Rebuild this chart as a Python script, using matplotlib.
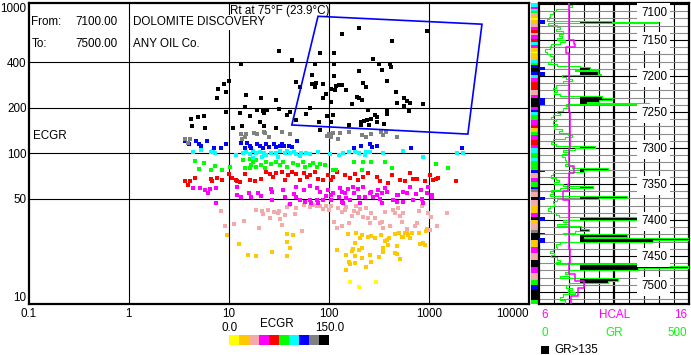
import numpy as np
import matplotlib
matplotlib.use("Agg")
import matplotlib.pyplot as plt

plt.rcParams['font.family'] = ['Liberation Sans', 'DejaVu Sans']
FS = 8.4
W, H = 691, 355

# ---------------- data: Rt (x) vs ECGR (y), grouped by ECGR colour class ----------------
class_colors = ['#FFFF00', '#FFC800', '#F5AAAA', '#FF00FF', '#FF0000',
                '#00FF00', '#00FFFF', '#0000FF', '#808080', '#000000']
ecgr_range = [0.0, 150.0]

black_rt = [200, 135, 950, 430, 81, 112, 275, 43, 32, 72, 112, 316, 407, 417, 200, 339, 68, 112, 380, 47.5,
            68, 74, 88, 222, 51, 73, 118, 127, 137, 106, 116, 147, 233, 464, 93, 88, 192, 201, 217, 562,
            600, 105, 169, 475, 646, 870, 562, 65, 32, 244, 378, 378, 631, 41, 59, 288, 302, 97, 109, 267,
            47.5, 79, 106, 212, 225, 241, 300, 355, 158, 209, 253, 81, 13.4, 7.8, 8.9, 10.1, 9.3, 7.7, 15, 21,
            30, 14.5, 9.5, 13.1, 19, 22, 24, 16.5, 4.2, 4.9, 5.7, 22.4, 20.7, 22.4, 13.7, 11, 29.5, 4.3, 5.8, 38]
black_ecgr = [680, 615, 650, 555, 465, 465, 423, 415, 478, 389, 389, 389, 389, 375, 352, 356, 330, 325, 302, 298,
              290, 293, 287, 293, 273, 273, 281, 285, 285, 266, 263, 263, 276, 255, 246, 233, 235, 231, 226, 232,
              222, 218, 213, 216, 216, 211, 205, 200, 196, 195, 190, 183, 190, 188, 182, 179, 175, 177, 179, 170,
              166, 162, 162, 162, 164, 166, 162, 156, 154, 154, 154, 143, 391, 267, 287, 301, 256, 233, 243, 233,
              226, 203, 188, 186, 195, 190, 193, 177, 169, 174, 177, 185, 161, 152, 152, 146, 148, 152, 148, 179]

gray_rt = [3.7, 3.9, 4.1, 13.4, 15, 14.5, 13.7, 17.9, 19.2, 22.4, 25, 23.3, 34, 41, 100, 106, 95, 124, 129, 158,
           215, 234, 263, 329, 372, 350, 475, 110]
gray_ecgr = [124, 117, 125, 134, 134, 128, 125, 136, 134, 138, 128, 136, 138, 134, 134, 128, 130, 125, 136, 138,
             132, 129, 134, 138, 138, 132, 129, 136]

blue_rt = [3.7, 4.0, 4.75, 5.1, 5.3, 6.1, 7.1, 8.3, 9.3, 13.4, 15.4, 16.2, 14.5, 16.8, 19.2, 20.7, 23.4, 22, 25.2,
           28.2, 30, 32.4, 35.8, 40, 48, 33.7, 42.5, 257, 300, 271, 179, 212, 670, 2160]
blue_ecgr = [121, 115, 121, 115, 111, 121, 109, 108, 115, 117, 117, 111, 109, 108, 116, 112, 116, 108, 110,
             115, 110, 112, 111, 112, 120, 115, 110, 116, 112, 110, 108, 111, 109, 108]

cyan_rt = [4.4, 5.3, 6.7, 7.35, 7.0, 11.7, 13.9, 15, 16.2, 17.5, 18.9, 20.4, 22.4, 23.8, 26.7, 30, 32.4, 36.3,
           38.3, 40.7, 44.7, 47.5, 53, 59, 64.6, 78, 102, 127, 139, 158, 182, 201, 229, 238, 257, 350, 553,
           877, 1890, 2200, 17.4, 21.6, 31, 51]
cyan_ecgr = [102, 105, 102, 101, 104, 97, 100, 102, 98.5, 104, 100, 102, 100, 97, 100, 101, 104, 100,
             104, 101, 102, 99, 100, 101, 99, 102, 99, 97, 100, 101.5, 102, 100, 97, 101.5, 102, 100, 104,
             94, 100, 100, 93.5, 95, 95, 96]

green_rt = [4.6, 5.1, 5.7, 6.7, 7.35, 8.5, 10.4, 13.9, 16.2, 17.5, 18.9, 16.8, 14.5, 16.2, 18.9, 21.2, 23.8,
            22.9, 26.7, 29.5, 32.4, 35, 37.8, 44, 49, 55, 57.5, 64.6, 70, 75.5, 82.6, 91, 109, 117, 178, 220,
            267, 363, 215, 430, 1175, 1540]
green_ecgr = [89, 79, 86, 77, 82, 77, 81.5, 90, 91, 88, 90, 84, 79.5, 79.5, 81.5, 84, 88,
              79.5, 85, 88, 84, 88, 81.5, 86, 84, 88, 81.5, 84, 86, 81.5, 84.6, 84, 77, 77, 88, 88,
              88, 88, 78, 80, 85, 80]

red_rt = [3.7, 3.9, 4.1, 4.6, 6.7, 6.85, 7.7, 8.5, 10, 10.9, 12.1, 11.7, 12.9, 14.5, 16.2, 18.2, 21.2, 23.8,
          25.7, 27.7, 30, 33.7, 36.3, 39.2, 42.5, 47.5, 51.3, 56, 60, 64.6, 72.4, 78, 87.7, 98.4, 106, 110,
          121, 145, 162, 182, 196, 220, 247, 300, 324, 392, 430, 513, 575, 646, 698, 754, 912, 1023, 1104,
          1167, 1240, 1862]
red_ecgr = [65, 62, 65, 69, 67, 65, 69, 66.5, 73, 69, 65, 66.5, 64, 73, 66.5, 65, 67.6, 75.6,
            73, 69.4, 73.7, 75.6, 66.5, 71.8, 75.6, 73, 66.5, 74.4, 69.4, 71.8, 75.6, 67.6, 66.5, 71.8, 66.5, 70,
            74.8, 71.5, 69, 73, 66.5, 70, 74.4, 70, 65.6, 63.3, 71.8, 66.5, 65, 73.7, 67.6, 67.6, 65.6, 71.8, 66.5,
            67.6, 69, 65.9]

magenta_rt = [4.4, 5.2, 5.75, 6.46, 7.4, 6.2, 7.4, 12.1, 12.1, 13.4, 16.6, 21.2, 26.7, 35, 47.5, 56.2, 64.6,
              75.5, 81.3, 98.4, 106, 129, 134, 145, 156, 176, 196, 220, 267, 311, 337, 363, 475, 553, 646, 826,
              984, 1064, 15.8, 19.6, 27, 27.3, 36.3, 40.7, 44.7, 47.5, 51.3, 57.5, 64.6, 67, 75.5, 78, 87.7,
              94.8, 106, 110, 127, 134, 139, 150, 162, 178, 201, 204, 229, 257, 277, 300, 324, 337, 378, 440,
              475, 494, 553, 599, 698, 738, 847, 877, 950, 1064]
magenta_ecgr = [59, 59, 57.2, 57.7, 59, 54.8, 47.1, 59.6, 53, 51.6, 51.2, 52.2, 57.7, 57.2, 59.6, 57.2, 60.7,
                59, 55.5, 57.2, 53, 59, 55.7, 54.8, 57.7, 59.6, 57.7, 59.6, 55.7, 57.2, 54.4, 58.6, 53, 55.5, 59.6,
                57.2, 59.6, 53, 54.8, 54.8, 55.7, 49.1, 51.2, 46.1, 53.8, 51.6, 49.1, 47.8, 49.1, 47.1, 49.1, 46.6,
                49.1, 52.2, 49.1, 54.8, 51.6, 47.8, 46.6, 50.3, 49.1, 54.4, 51.2, 46.6, 51.6, 54.8, 51.6, 53, 49.6,
                46.6, 55.7, 49.1, 47.8, 53, 47.8, 54.4, 49.1, 53.8, 49.6, 47.1, 54.4, 51.2]

pink_rt = [8.3, 9.1, 11.2, 14.1, 18.6, 20, 21.4, 22, 24.7, 25.7, 28.2, 31.1, 31.8, 32.4, 33.7, 36.3, 38.3, 40.2,
           45.7, 47.5, 54.6, 56.2, 64.6, 69.8, 75.5, 82.6, 87.7, 94.8, 100, 106, 112, 120, 124, 134, 135, 145,
           150, 160, 169, 178, 186, 196, 204, 220, 238, 247, 257, 267, 288, 324, 337, 350, 363, 407, 440, 457,
           494, 513, 533, 553, 599, 724, 754, 801, 847, 972, 1050, 1023, 1197, 1510]
pink_ecgr = [41.7, 32.7, 34, 35.8, 42.1, 32, 41.7, 39.6, 42.1, 37.1, 41, 40, 41.7, 36.6, 33.5, 39, 44.3, 45.5,
             39.6, 43.2, 30.7, 45.5, 44.3, 45.5, 44.6, 44.8, 42.6, 44.4, 42.1, 44.8, 35.2, 31.7, 43.2, 41, 33, 42.1,
             43.9, 34.7, 38.4, 41.7, 44.5, 40, 42.6, 38, 43.2, 37.1, 34.7, 40, 37.1, 34.4, 34.9, 31.9, 41, 32.7,
             42.1, 40, 43.2, 38.4, 35.2, 40, 31.4, 33, 34.4, 41.7, 44.8, 40, 38, 31, 33, 40.4]

gold_rt = [9.7, 12.7, 15.7, 18.9, 26.9, 37.8, 43.4, 37.8, 41.4, 38.6, 120, 150, 160, 150, 157, 182, 189, 175,
           169, 201, 214, 217, 204, 247, 267, 288, 329, 363, 378, 401, 392, 350, 345, 319, 257, 217, 182, 162,
           182, 267, 234, 457, 501, 537, 575, 620, 606, 646, 553, 671, 475, 457, 482, 513, 801, 933, 950, 813,
           867, 912]
gold_ecgr = [28.9, 24.9, 21, 20.7, 22, 29.1, 28.5, 25.7, 23.7, 20.7, 22.9, 21.2, 18.9, 16.9, 29.2, 25.4, 29.8,
             23.1, 22.6, 22.7, 28.7, 23.7, 27.4, 27.8, 28.1, 27.3, 28.7, 26.1, 26.5, 27.3, 24.7, 23.7, 22, 20.4,
             21.2, 20.2, 20.7, 18.5, 18.7, 18.9, 17.5, 29.1, 29.5, 27.8, 29.8, 28.7, 30.2, 27.3, 27.8, 29.5, 24.3,
             21.8, 21.5, 20, 29.8, 30.5, 31.4, 24.9, 25.5, 24.7]

yellow_rt = [162, 200, 295]
yellow_ecgr = [14.1, 12.9, 14.1]

# selection polygon (Rt, ECGR)
poly_rt = [78, 3390, 2450, 42.7]
poly_ecgr = [810, 718, 134, 154]

xticks = [0.1, 1, 10, 100, 1000, 10000]
xtick_labels = ['0.1', '1', '10', '100', '1000', '10000']
yticks = [10, 50, 100, 200, 400, 1000]
ytick_labels = ['10', '50', '100', '200', '400', '1000']

# ---------------- data: depth track ----------------
depth_top, depth_bot = 7097.9, 7516.7
gr_depth = [7097, 7101, 7104, 7107, 7110, 7114, 7118, 7121, 7123.5, 7125.5, 7126.5, 7129, 7132, 7135, 7138,
            7141, 7144, 7147, 7150, 7153, 7156, 7159, 7162, 7166, 7169, 7172, 7176, 7180, 7183, 7186, 7188,
            7190, 7192, 7193, 7197, 7198, 7201, 7204, 7207, 7210, 7213, 7216, 7219, 7222, 7225, 7228, 7230,
            7233, 7236, 7238, 7239, 7242, 7245, 7248, 7251, 7254, 7257, 7260, 7263, 7266, 7270, 7273, 7276,
            7279, 7282, 7285, 7288, 7291, 7294, 7297, 7300, 7303, 7306, 7309, 7312, 7316, 7319, 7322, 7325,
            7328, 7330, 7333, 7335, 7338, 7341, 7344, 7347, 7350, 7353, 7356, 7358, 7361, 7364, 7367, 7369,
            7371, 7374, 7377, 7380, 7384, 7387, 7390, 7393, 7396, 7400, 7403, 7406, 7409, 7412, 7415, 7418,
            7420, 7423, 7425, 7428, 7431, 7434, 7437, 7440, 7443, 7446, 7449, 7452, 7455, 7458, 7461, 7464,
            7466, 7469, 7472, 7475, 7478, 7481, 7485, 7488, 7491, 7494, 7497, 7500, 7503, 7507, 7511, 7517]
gr_value = [95, 110, 100, 55, 48, 35, 32, 25, 243, 398, 30, 60, 70, 55, 80,
            65, 75, 60, 85, 70, 40, 35, 20, 25, 38, 45, 40, 30, 60, 137, 170,
            198, 120, 198, 205, 75, 90, 110, 80, 95, 55, 45, 60, 50, 70, 210, 242,
            200, 160, 368, 90, 100, 80, 60, 70, 45, 40, 55, 45, 60, 50, 75, 65,
            95, 110, 85, 45, 40, 55, 187, 120, 80, 95, 75, 85, 90, 100, 85, 110,
            231, 150, 100, 45, 40, 55, 65, 50, 80, 180, 70, 40, 45, 35, 292, 200,
            60, 45, 50, 35, 30, 40, 55, 65, 328, 80, 100, 60, 140, 165, 120, 80,
            292, 150, 520, 380, 70, 55, 60, 45, 35, 50, 40, 60, 70, 55, 364, 498,
            330, 100, 85, 100, 70, 264, 230, 100, 90, 110, 95, 120, 80, 70, 85]

hcal_depth = [7097, 7120, 7150, 7155, 7160, 7168, 7200, 7250, 7300, 7325, 7335, 7350, 7360, 7372, 7380, 7400,
              7440, 7460, 7475, 7485, 7495, 7505, 7517]
hcal_value = [8.0, 8.0, 8.3, 8.4, 7.8, 8.0, 8.0, 8.05, 8.0, 8.3, 8.0, 7.9, 7.6, 8.0, 8.0, 8.0,
              8.05, 8.0, 8.4, 9.0, 8.6, 8.1]
gr_cut = 135

# depths where samples fall inside the selection polygon
sel_depth = [7122.5, 7188, 7194.5, 7231, 7331.5, 7368, 7396, 7418, 7425]
sel_thick = [5, 4, 5, 9, 1.5, 4, 5, 1.5, 7]

# ECGR colour class along depth (class index 0..9), boundaries in feet
strip_depth = [7098, 7104.6, 7107.4, 7109.7, 7113, 7116.2, 7120, 7122.2, 7126, 7131.5, 7136, 7140.7, 7143,
               7149, 7152.3, 7157, 7161.6, 7166, 7168, 7177.8, 7182.4, 7184.7, 7189.4, 7194, 7198.6, 7203.2,
               7207.9, 7219.4, 7226.4, 7231, 7242.6, 7247.2, 7250, 7254.2, 7261.1, 7268, 7272.7, 7277.3, 7282,
               7288.9, 7295.8, 7300.5, 7307.4, 7314, 7318, 7330.6, 7335.2, 7342.1, 7346.8, 7353.7, 7357, 7360.6,
               7367.6, 7372.2, 7379.2, 7390.7, 7395.4, 7400, 7406, 7413.9, 7418.5, 7427.8, 7437, 7446.3, 7455.6,
               7464.8, 7474, 7483.3, 7490.3, 7497.2, 7511, 7517]
strip_class = [6, 3, 6, 5, 2, 1, 0, 1, 2, 3, 4, 2, 3, 4, 6, 3, 1, 0, 1, 6, 5, 7, 9, 7, 6, 3, 4, 2, 3, 9,
               3, 7, 6, 5, 3, 4, 1, 5, 3, 4, 3, 6, 5, 6, 5, 7, 2, 3, 5, 7, 8, 2, 9, 2, 1, 3, 9, 1, 2, 8,
               9, 1, 3, 2, 9, 3, 2, 5, 7, 9, 5]

depth_ticks = [7100, 7150, 7200, 7250, 7300, 7350, 7400, 7450, 7500]

# ---------------- figure ----------------
fig = plt.figure(figsize=(W / 100, H / 100), dpi=100)


def fx(px):
    return px / W


def fy(py):
    return 1 - py / H


ax = fig.add_axes([fx(28.5), fy(304), (529 - 28.5) / W, (304 - 2.5) / H])
ax.set_xscale('log')
ax.set_yscale('log')
ax.set_xlim(0.1, 10000)
ax.set_ylim(10, 1000)
ax.minorticks_off()
ax.set_xticks(xticks)
ax.set_xticklabels(xtick_labels)
ax.set_yticks(yticks)
ax.set_yticklabels(ytick_labels)
ax.tick_params(length=0, labelsize=FS, pad=3)
ax.tick_params(axis='y', pad=1.5)
ax.get_xticklabels()[-1].set_horizontalalignment('right')
ax.get_yticklabels()[-1].set_verticalalignment('top')
ax.get_yticklabels()[0].set_verticalalignment('bottom')
for s in ax.spines.values():
    s.set_linewidth(1.6)
for v in [1, 10, 100, 1000]:
    ax.axvline(v, color='black', lw=0.8, zorder=1)
for v in [50, 100, 200, 400]:
    ax.axhline(v, color='black', lw=0.8, zorder=1)

groups = [(yellow_rt, yellow_ecgr), (gold_rt, gold_ecgr), (pink_rt, pink_ecgr), (magenta_rt, magenta_ecgr),
          (red_rt, red_ecgr), (green_rt, green_ecgr), (cyan_rt, cyan_ecgr), (blue_rt, blue_ecgr),
          (gray_rt, gray_ecgr), (black_rt, black_ecgr)]
for (xs, ys), c in zip(groups, class_colors):
    ax.scatter(xs, ys, s=9, marker='s', color=c, linewidths=0, zorder=3)

ax.fill(poly_rt, poly_ecgr, facecolor='none', edgecolor='#0000FF', lw=1.2, zorder=4)

tb = dict(boxstyle='square,pad=0.15', fc='white', ec='none')
fig.text(fx(31.5), fy(22.3), 'From:', fontsize=FS, va='center', ha='left')
fig.text(fx(75), fy(22.3), '7100.00', fontsize=FS, va='center', ha='left')
fig.text(fx(133), fy(22.3), 'DOLOMITE DISCOVERY', fontsize=FS, va='center', ha='left', bbox=tb)
fig.text(fx(31.5), fy(44), 'To:', fontsize=FS, va='center', ha='left')
fig.text(fx(75), fy(44), '7500.00', fontsize=FS, va='center', ha='left')
fig.text(fx(133), fy(44), 'ANY OIL Co.', fontsize=FS, va='center', ha='left', bbox=tb)
fig.text(fx(230), fy(10.8), 'Rt at 75°F (23.9°C)', fontsize=FS, va='center', ha='left')
fig.text(fx(33), fy(135.7), 'ECGR', fontsize=FS, va='center', ha='left')

# colour scale
cax = fig.add_axes([fx(229), fy(345), 100 / W, 10 / H])
edges = np.linspace(ecgr_range[0], ecgr_range[1], len(class_colors) + 1)
cax.bar(edges[:-1], np.ones(len(class_colors)), width=np.diff(edges), align='edge', color=class_colors)
cax.set_xlim(ecgr_range)
cax.set_ylim(0, 1)
cax.axis('off')
fig.text(fx(276.5), fy(324), 'ECGR', fontsize=FS, ha='center', va='center')
fig.text(fx(229.5), fy(328), f'{ecgr_range[0]:.1f}', fontsize=FS, ha='center', va='center')
fig.text(fx(329.5), fy(328), f'{ecgr_range[1]:.1f}', fontsize=FS, ha='center', va='center')

# colour strip along depth
sax = fig.add_axes([fx(531), fy(304), 7 / W, (304 - 2.5) / H])
sax.set_ylim(depth_bot, depth_top)
sax.set_xlim(0, 1)
for d0, d1, k in zip(strip_depth[:-1], strip_depth[1:], strip_class):
    sax.axhspan(d0, d1, color=class_colors[k], lw=0)
sax.axis('off')

# log track
tax = fig.add_axes([fx(539), fy(304), 150 / W, (304 - 2.5) / H])
tax.set_xlim(0, 500)
tax.set_ylim(depth_bot, depth_top)
tax.set_xticks([])
tax.set_yticks([])
for s in tax.spines.values():
    s.set_linewidth(1.6)
for g in range(50, 500, 50):
    tax.axvline(g, color='black', lw=1.6 if g == 250 else 0.8, zorder=1)
for d in range(7100, 7520, 10):
    tax.axhline(d, color='black' if d % 50 == 0 else '#8C8C8C', lw=0.8, zorder=1)

gd = np.array(gr_depth, dtype=float)
gv = np.array(gr_value, dtype=float)
ys = np.repeat(gd, 2)[1:-1]
xs = np.repeat(gv, 2)
tax.fill_betweenx(ys, gr_cut, xs, where=xs > gr_cut, color='black', lw=0, zorder=2)
tax.plot(np.clip(xs, 0, 500), ys, color='#00FF00', lw=0.8, zorder=3)

hd = np.array(hcal_depth, dtype=float)
hv = np.array(hcal_value, dtype=float)
hx = (hv - 6) / (16 - 6) * 500
tax.plot(np.repeat(hx, 2), np.repeat(hd, 2)[1:-1], color='#FF00FF', lw=1.1, zorder=4)

tax.barh(sel_depth, 20, height=sel_thick, left=0, align='edge', color='#0000FF', zorder=5)

for d in depth_ticks:
    dd = d + 2
    if d == depth_ticks[0]:
        dd = d + 12
    if d == depth_ticks[-1]:
        dd = d - 8
    tax.text(383, dd, str(d), fontsize=FS, ha='center', va='center',
             bbox=dict(boxstyle='square,pad=0.3', fc='white', ec='none'), zorder=6)

# track legend
fig.text(fx(541), fy(315), '6', color='#FF00FF', fontsize=FS, ha='left', va='center')
fig.text(fx(614.5), fy(315), 'HCAL', color='#FF00FF', fontsize=FS, ha='center', va='center')
fig.text(fx(687), fy(315), '16', color='#FF00FF', fontsize=FS, ha='right', va='center')
fig.text(fx(541), fy(333), '0', color='#00FF00', fontsize=FS, ha='left', va='center')
fig.text(fx(614.5), fy(333), 'GR', color='#00FF00', fontsize=FS, ha='center', va='center')
fig.text(fx(687), fy(333), '500', color='#00FF00', fontsize=FS, ha='right', va='center')
lax = fig.add_axes([fx(540.7), fy(354.3), 8 / W, 8.3 / H])
lax.bar([0], [1], width=1, align='edge', color='black')
lax.set_xlim(0, 1)
lax.set_ylim(0, 1)
lax.axis('off')
fig.text(fx(554), fy(350), f'GR>{gr_cut}', fontsize=FS, ha='left', va='center')

fig.savefig('out.png', dpi=100)
